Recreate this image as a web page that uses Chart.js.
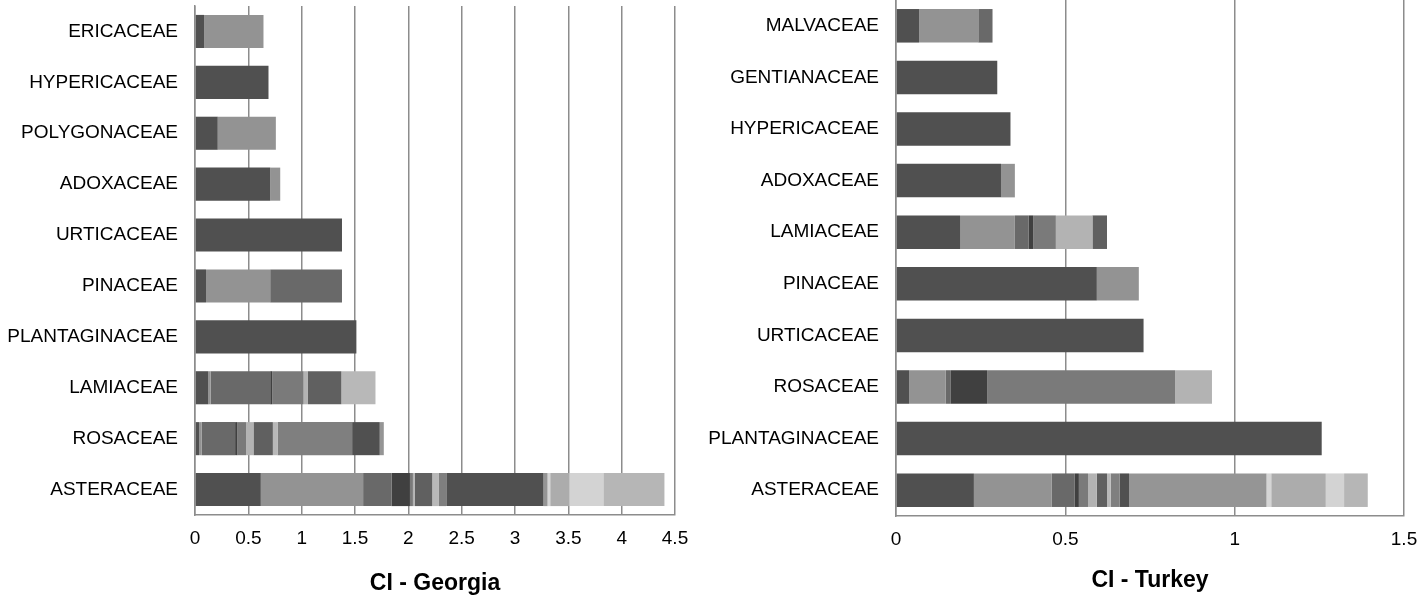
<html>
<head>
    <title>CI - Georgia / CI - Turkey</title>
    <script src="https://cdn.jsdelivr.net/npm/chart.js@4.4.0/dist/chart.umd.min.js"></script>
    <style>
        body { margin: 0; background: #fff; }
        #georgiaChart { position: absolute; left: 0; top: 0; }
        #turkeyChart { position: absolute; left: 700px; top: 0; }
    </style>
</head>
<body>
<canvas id="georgiaChart" width="700" height="599"></canvas>
<canvas id="turkeyChart" width="718" height="599"></canvas>

<script>
  // families, top to bottom as in the figure
  const georgiaFamilies = ['ERICACEAE', 'HYPERICACEAE', 'POLYGONACEAE', 'ADOXACEAE', 'URTICACEAE',
    'PINACEAE', 'PLANTAGINACEAE', 'LAMIACEAE', 'ROSACEAE', 'ASTERACEAE']
  const turkeyFamilies = ['MALVACEAE', 'GENTIANACEAE', 'HYPERICACEAE', 'ADOXACEAE', 'LAMIACEAE',
    'PINACEAE', 'URTICACEAE', 'ROSACEAE', 'PLANTAGINACEAE', 'ASTERACEAE']

  // CI contribution of each stacked segment, left to right, one row per family
  const georgiaValues = [
    [0.085, 0.557],
    [0.689],
    [0.213, 0.545],
    [0.705, 0.094],
    [1.378],
    [0.103, 0.602, 0.673],
    [1.513],
    [0.125, 0.022, 0.558, 0.019, 0.294, 0.041, 0.313, 0.320],
    [0.038, 0.025, 0.313, 0.022, 0.081, 0.069, 0.182, 0.044, 0.699, 0.259, 0.038],
    [0.617, 0.959, 0.266, 0.173, 0.028, 0.019, 0.162, 0.063, 0.069, 0.911, 0.038, 0.025, 0.179, 0.319, 0.573]
  ]
  const turkeyValues = [
    [0.068, 0.175, 0.042],
    [0.299],
    [0.338],
    [0.310, 0.041],
    [0.189, 0.162, 0.041, 0.013, 0.067, 0.108, 0.043],
    [0.593, 0.124],
    [0.731],
    [0.039, 0.108, 0.015, 0.107, 0.555, 0.109],
    [1.257],
    [0.230, 0.230, 0.068, 0.012, 0.027, 0.026, 0.030, 0.011, 0.026, 0.028, 0.406, 0.014, 0.161, 0.054, 0.070]
  ]

  const georgiaTicks = { max: 4.5, step: 0.5 }
  const turkeyTicks = { max: 1.5, step: 0.5 }

  // grey shades used for the n-th segment of every bar
  const shades = ['#505050', '#939393', '#696969', '#404040', '#7a7a7a', '#b3b3b3', '#606060', '#b8b8b8',
    '#7f7f7f', '#505050', '#959595', '#d5d5d5', '#acacac', '#d3d3d3', '#b6b6b6']

  const fontFamily = '"Liberation Sans", Arial, sans-serif'
  const gridColor = '#8c8c8c'

  function buildDatasets(values) {
    let slots = Math.max(...values.map(v => v.length))
    let datasets = []
    for (let k = 0; k < slots; k++) {
      datasets.push({
        label: 'segment ' + (k + 1),
        data: values.map(v => (k < v.length ? v[k] : null)),
        backgroundColor: shades[k % shades.length],
        borderWidth: 0,
        barPercentage: 0.65,
        categoryPercentage: 1.0
      })
    }
    return datasets
  }

  function makeChart(id, labels, values, ticks, title, opts) {
    new Chart(document.getElementById(id), {
      type: 'bar',
      data: { labels: labels, datasets: buildDatasets(values) },
      options: {
        indexAxis: 'y',
        responsive: false,
        animation: false,
        layout: { padding: { top: opts.top, right: opts.right, left: 0, bottom: 0 } },
        plugins: { legend: { display: false }, tooltip: { enabled: false } },
        scales: {
          x: {
            stacked: true,
            min: 0,
            max: ticks.max,
            grid: { display: true, color: gridColor, lineWidth: 1.5, drawTicks: false },
            border: { display: true, color: gridColor, width: 1.5 },
            ticks: {
              stepSize: ticks.step,
              padding: 12,
              color: '#000',
              font: { family: fontFamily, size: 19 },
              callback: value => String(Math.round(value * 10) / 10)
            },
            title: {
              display: true,
              text: title,
              color: '#000',
              padding: { top: 4, bottom: opts.titlePad },
              font: { family: fontFamily, size: 23, weight: 'bold' }
            },
            afterFit: function (scale) {
              scale.height = opts.xHeight
              scale.paddingLeft = 0
              scale.paddingRight = 0
            }
          },
          y: {
            stacked: true,
            grid: { display: false, drawTicks: false },
            border: { display: true, color: gridColor, width: 1.5 },
            ticks: {
              padding: 17,
              color: '#000',
              font: { family: fontFamily, size: 19 }
            },
            afterFit: function (scale) {
              scale.width = opts.yWidth
              scale.paddingTop = 0
              scale.paddingBottom = 0
            }
          }
        }
      }
    })
  }

  makeChart('georgiaChart', georgiaFamilies, georgiaValues, georgiaTicks, 'CI - Georgia',
    { top: 6, right: 25, yWidth: 195, xHeight: 84, titlePad: 2 })
  makeChart('turkeyChart', turkeyFamilies, turkeyValues, turkeyTicks, 'CI - Turkey',
    { top: 0, right: 14, yWidth: 196, xHeight: 83, titlePad: 5 })
</script>
</body>
</html>
